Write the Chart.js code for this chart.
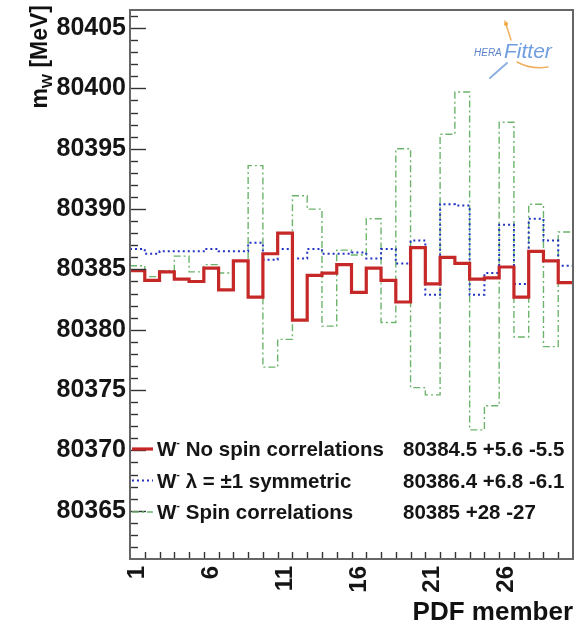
<!DOCTYPE html>
<html>
<head>
<meta charset="utf-8">
<script src="https://cdn.jsdelivr.net/npm/chart.js@4/dist/chart.umd.min.js"></script>
<style>
  html, body { margin: 0; padding: 0; background: #ffffff; }
  #c { display: block; }
</style>
</head>
<body>
<canvas id="c" width="587" height="626"></canvas>
<script>
// PDF members (one histogram bin each)
const members = [1, 2, 3, 4, 5, 6, 7, 8, 9, 10, 11, 12, 13, 14, 15, 16, 17, 18, 19, 20,
                 21, 22, 23, 24, 25, 26, 27, 28, 29, 30];
const xTickLabels = [1, 6, 11, 16, 21, 26];
const yTickLabels = [80365, 80370, 80375, 80380, 80385, 80390, 80395, 80400, 80405];

// fitted W mass per PDF member [MeV]
const noSpin = [80384.9, 80384.1, 80384.8, 80384.2, 80384.0, 80385.1, 80383.3, 80385.7, 80382.7, 80386.3,
                80388.0, 80380.8, 80384.5, 80384.7, 80385.4, 80383.1, 80385.1, 80384.1, 80382.3, 80386.8,
                80383.8, 80386.0, 80385.5, 80384.2, 80384.3, 80385.2, 80382.7, 80386.5, 80385.7, 80383.9];
const symmetric = [80386.7, 80386.3, 80386.5, 80386.5, 80386.5, 80386.7, 80386.5, 80386.5, 80387.2, 80385.8,
                   80386.7, 80385.9, 80386.7, 80386.3, 80386.3, 80386.4, 80385.9, 80386.7, 80385.5, 80387.4,
                   80382.9, 80390.4, 80390.3, 80382.9, 80384.7, 80388.7, 80383.8, 80389.2, 80387.4, 80385.3];
const spinCorr = [80385.3, 80384.4, 80384.9, 80386.1, 80384.8, 80385.4, 80384.7, 80385.7, 80393.6, 80376.9,
                  80379.2, 80391.1, 80390.0, 80380.3, 80386.6, 80386.2, 80389.2, 80380.6, 80395.0, 80375.2,
                  80374.6, 80396.2, 80399.7, 80371.7, 80373.7, 80397.2, 80379.4, 80390.4, 80378.6, 80388.1];

const legendLabels = [" No spin correlations", " \u03bb = \u00b11 symmetric", " Spin correlations"];
const legendValues = ["80384.5 +5.6 -5.5", "80386.4 +6.8 -6.1", "80385 +28 -27"];

const FONT = "'Liberation Sans', Arial, Helvetica, sans-serif";

// histogram outline: one point at each bin's low edge, plus the last high edge
function stepPoints(vals) {
  const pts = members.map((m, i) => ({ x: m - 0.5, y: vals[i] }));
  pts.push({ x: members[members.length - 1] + 0.5, y: vals[vals.length - 1] });
  return pts;
}

const styles = [
  { color: '#c62828', width: 3.2, dash: [] },
  { color: '#2233c4', width: 2, dash: [2, 3] },
  { color: '#6cb46c', width: 1.4, dash: [7, 3, 2, 3] }
];
const seriesValues = [noSpin, symmetric, spinCorr];

const datasets = seriesValues.map((vals, i) => ({
  label: legendLabels[i],
  data: stepPoints(vals),
  stepped: 'before',
  borderColor: styles[i].color,
  borderWidth: styles[i].width,
  borderDash: styles[i].dash,
  borderCapStyle: 'butt',
  borderJoinStyle: 'miter',
  pointRadius: 0,
  fill: false,
  tension: 0
}));

function drawTextRun(ctx, parts, x, y) {
  // parts: [{text, font, dy}]
  let cx = x;
  parts.forEach(p => {
    ctx.font = p.font;
    ctx.fillText(p.text, cx, y + (p.dy || 0));
    cx += ctx.measureText(p.text).width;
  });
  return cx;
}
function runWidth(ctx, parts) {
  let w = 0;
  parts.forEach(p => { ctx.font = p.font; w += ctx.measureText(p.text).width; });
  return w;
}

const decorations = {
  id: 'decorations',
  afterDatasetsDraw(chart) {
    const { ctx, chartArea: a, scales: { x, y } } = chart;
    ctx.save();

    // y-axis tick marks, drawn inside the frame
    ctx.strokeStyle = '#333';
    ctx.lineWidth = 1.4;
    for (let v = Math.ceil(y.min) + 1; v <= y.max; v++) {
      const py = Math.round(y.getPixelForValue(v)) + 0.5;
      const major = yTickLabels.includes(v);
      ctx.beginPath();
      ctx.moveTo(a.left, py);
      ctx.lineTo(a.left + (major ? 16 : 8), py);
      ctx.stroke();
    }
    // x-axis tick marks at every bin edge
    members.slice(0, -1).forEach(m => {
      const px = Math.round(x.getPixelForValue(m + 0.5)) + 0.5;
      ctx.beginPath();
      ctx.moveTo(px, a.bottom);
      ctx.lineTo(px, a.bottom - 7);
      ctx.stroke();
    });

    // frame
    ctx.strokeStyle = '#666';
    ctx.lineWidth = 2;
    ctx.strokeRect(a.left, a.top, a.right - a.left, a.bottom - a.top);

    // axis titles
    ctx.fillStyle = '#111';
    ctx.textBaseline = 'alphabetic';
    ctx.textAlign = 'right';
    ctx.font = 'bold 26px ' + FONT;
    ctx.fillText('PDF member', a.right, 620);

    ctx.save();
    ctx.translate(47, 5);
    ctx.rotate(-Math.PI / 2);
    ctx.textAlign = 'left';
    const yTitle = [
      { text: 'm', font: 'bold 23px ' + FONT },
      { text: 'W', font: 'bold 15px ' + FONT, dy: 5 },
      { text: ' [MeV]', font: 'bold 23px ' + FONT }
    ];
    drawTextRun(ctx, yTitle, -runWidth(ctx, yTitle), 0);
    ctx.restore();

    // legend
    const rowBase = [456, 487.5, 519];
    ctx.textAlign = 'left';
    chart.data.datasets.forEach((ds, i) => {
      const ly = rowBase[i] - 7;
      ctx.save();
      ctx.strokeStyle = ds.borderColor;
      ctx.lineWidth = ds.borderWidth;
      ctx.setLineDash(ds.borderDash);
      ctx.beginPath();
      ctx.moveTo(a.left + 2, ly);
      ctx.lineTo(a.left + 23, ly);
      ctx.stroke();
      ctx.restore();
      ctx.fillStyle = '#151515';
      drawTextRun(ctx, [
        { text: 'W', font: 'bold 20.5px ' + FONT },
        { text: '-', font: 'bold 11px ' + FONT, dy: -10 },
        { text: legendLabels[i], font: 'bold 20.5px ' + FONT }
      ], 157, rowBase[i]);
      ctx.font = 'bold 20.5px ' + FONT;
      ctx.fillText(legendValues[i], 403, rowBase[i]);
    });

    // HERAFitter logo
    ctx.save();
    ctx.lineCap = 'round';
    ctx.strokeStyle = '#f0b060';
    ctx.lineWidth = 1.5;
    ctx.beginPath(); ctx.moveTo(505, 21); ctx.lineTo(511, 40); ctx.stroke();
    ctx.fillStyle = '#f0a840';
    ctx.beginPath(); ctx.arc(506, 24, 2, 0, Math.PI * 2); ctx.fill();
    ctx.beginPath(); ctx.moveTo(517, 62); ctx.quadraticCurveTo(532, 70, 548, 67); ctx.stroke();
    ctx.strokeStyle = '#8fb0e0';
    ctx.lineWidth = 2;
    ctx.beginPath(); ctx.moveTo(490, 78); ctx.lineTo(507, 63); ctx.stroke();
    ctx.fillStyle = '#5d86cc';
    ctx.font = 'italic 10px ' + FONT;
    ctx.textAlign = 'left';
    ctx.fillText('HERA', 474, 56);
    ctx.fillStyle = '#6f9ee0';
    ctx.font = 'italic 21px ' + FONT;
    ctx.fillText('Fitter', 504, 58);
    ctx.restore();

    ctx.restore();
  }
};

new Chart(document.getElementById('c'), {
  type: 'line',
  data: { datasets },
  options: {
    responsive: false,
    animation: false,
    devicePixelRatio: 1,
    layout: { padding: { top: 10, right: 14, left: 0, bottom: 0 } },
    plugins: { legend: { display: false }, tooltip: { enabled: false } },
    scales: {
      x: {
        type: 'linear',
        min: 0.5,
        max: 30.5,
        grid: { display: false, drawTicks: false },
        border: { display: false },
        afterBuildTicks: s => { s.ticks = xTickLabels.map(v => ({ value: v })); },
        ticks: {
          autoSkip: false,
          minRotation: 90,
          maxRotation: 90,
          padding: 7,
          color: '#151515',
          font: { family: FONT, size: 24, weight: 'bold' },
          callback: v => String(v)
        },
        afterFit: s => { s.height = 67; s.paddingLeft = 0; s.paddingRight = 0; }
      },
      y: {
        type: 'linear',
        min: 80361,
        max: 80406.5,
        grid: { display: false, drawTicks: false },
        border: { display: false },
        afterBuildTicks: s => { s.ticks = yTickLabels.map(v => ({ value: v })); },
        ticks: {
          padding: 4,
          color: '#151515',
          font: { family: FONT, size: 25, weight: 'bold' },
          callback: v => String(v)
        },
        afterFit: s => { s.width = 130; s.paddingTop = 0; s.paddingBottom = 0; }
      }
    }
  },
  plugins: [decorations]
});
</script>
</body>
</html>
